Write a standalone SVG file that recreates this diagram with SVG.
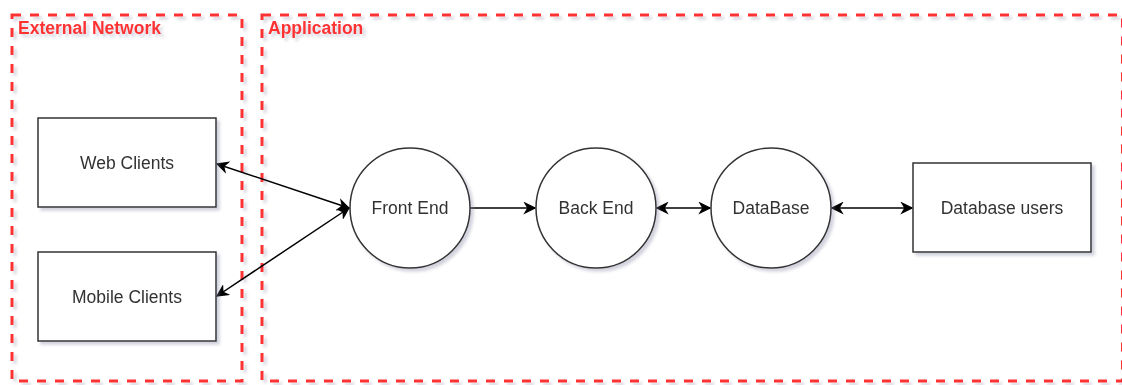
<svg xmlns="http://www.w3.org/2000/svg" width="1122" height="385" viewBox="0 0 1122 385">
<style>
.group{fill:none;stroke:#FF3333;stroke-width:3;stroke-dasharray:9 9}
.glabel{font-family:"Liberation Sans",Arial,sans-serif;font-size:17.5px;font-weight:bold;fill:#FF3333}
.node{fill:#fff;stroke:#333;stroke-width:1.5}
.lbl{font-family:"Liberation Sans",Arial,sans-serif;font-size:17.5px;fill:#333;text-anchor:middle;dominant-baseline:central}
.edge{stroke:#000;stroke-width:1.5;fill:none}
</style>
<defs>
<filter id="sh" x="-20%" y="-20%" width="150%" height="150%">
<feGaussianBlur in="SourceAlpha" stdDeviation="1.5"/>
<feOffset dx="3" dy="3" result="b"/>
<feFlood flood-color="#8080a0" flood-opacity="0.35"/>
<feComposite in2="b" operator="in"/>
<feMerge><feMergeNode/><feMergeNode in="SourceGraphic"/></feMerge>
</filter>
<marker id="ah" viewBox="0 0 10 10" refX="9" refY="5" markerWidth="13" markerHeight="13" markerUnits="userSpaceOnUse" orient="auto-start-reverse">
<path d="M0,0 L10,5 L0,10 L3,5 Z" fill="#000"/>
</marker>
</defs>
<rect width="1122" height="385" fill="#fff"/>
<g id="external-network" filter="url(#sh)">
<rect class="group" x="12" y="15" width="230" height="366"/>
<text class="glabel" x="18" y="34">External Network</text>
</g>
<g id="application" filter="url(#sh)">
<rect class="group" x="262" y="15" width="860.5" height="366"/>
<text class="glabel" x="268" y="34">Application</text>
</g>
<g id="connectors">
<line class="edge" x1="217" y1="164" x2="349" y2="208" marker-start="url(#ah)" marker-end="url(#ah)"/>
<line class="edge" x1="217" y1="296" x2="349" y2="208" marker-start="url(#ah)" marker-end="url(#ah)"/>
<line class="edge" x1="470" y1="208" x2="535" y2="208" marker-end="url(#ah)"/>
<line class="edge" x1="657" y1="208" x2="710" y2="208" marker-start="url(#ah)" marker-end="url(#ah)"/>
<line class="edge" x1="832" y1="208" x2="912" y2="208" marker-start="url(#ah)" marker-end="url(#ah)"/>
</g>
<g id="web-clients" filter="url(#sh)">
<rect class="node" x="38" y="118" width="178" height="89"/>
<text class="lbl" x="127" y="162.5">Web Clients</text>
</g>
<g id="mobile-clients" filter="url(#sh)">
<rect class="node" x="38" y="252" width="178" height="89"/>
<text class="lbl" x="127" y="296.5">Mobile Clients</text>
</g>
<g id="front-end" filter="url(#sh)">
<circle class="node" cx="410" cy="208" r="60"/>
<text class="lbl" x="410" y="208">Front End</text>
</g>
<g id="back-end" filter="url(#sh)">
<circle class="node" cx="596" cy="208" r="60"/>
<text class="lbl" x="596" y="208">Back End</text>
</g>
<g id="database" filter="url(#sh)">
<circle class="node" cx="771" cy="208" r="60"/>
<text class="lbl" x="771" y="208">DataBase</text>
</g>
<g id="database-users" filter="url(#sh)">
<rect class="node" x="913" y="163" width="178" height="89"/>
<text class="lbl" x="1002" y="207.5">Database users</text>
</g>
</svg>
